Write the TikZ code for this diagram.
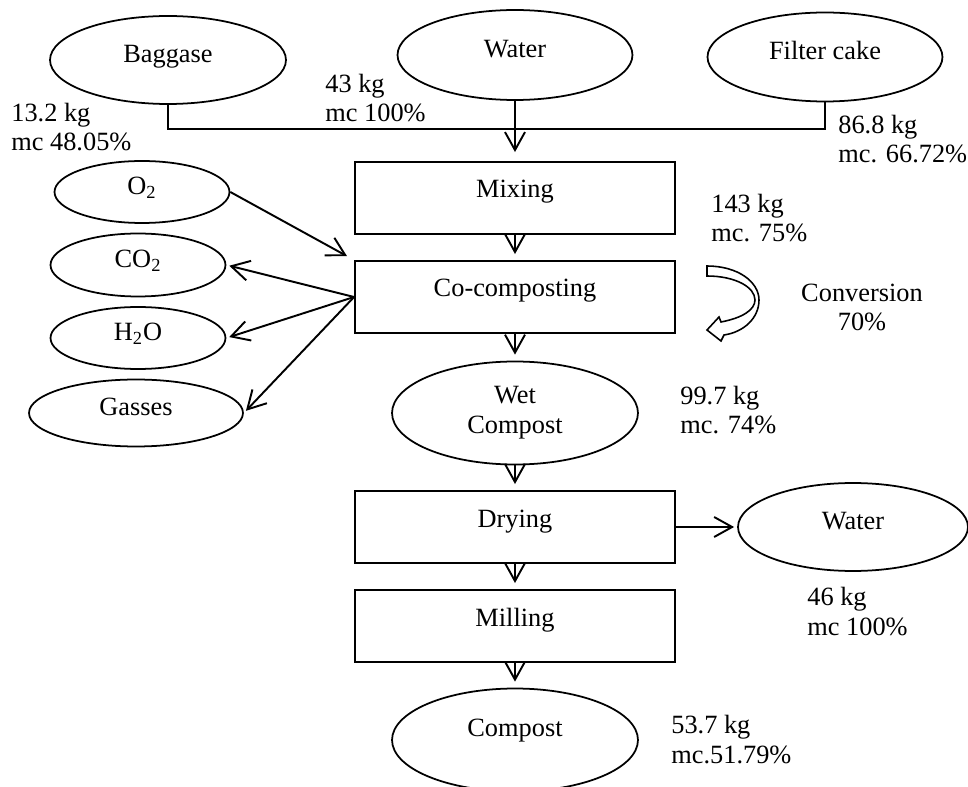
\documentclass[tikz,border=0pt]{standalone}
\usepackage{fontspec}
\setmainfont{Liberation Serif}
\usetikzlibrary{shapes.geometric,arrows.meta}

\begin{document}
\begin{tikzpicture}[x=0.02cm,y=-0.02cm,
    font=\fontsize{15}{17}\selectfont,
    oval/.style={draw,ellipse,line width=1pt,inner sep=0pt},
    oval1/.style={oval,text height=10.5pt,text depth=7.5pt},
    procbox/.style={draw,rectangle,line width=1.1pt,minimum width=6.4cm,minimum height=1.44cm,inner sep=0pt,text height=10pt,text depth=10pt},
    flow/.style={-{Straight Barb[length=3.6mm,width=4mm]},line width=1.1pt,shorten >=0.12cm},
    amount/.style={anchor=base west,align=left,inner sep=0pt}]

        \useasboundingbox (0,0) rectangle (968,787);

        \node[oval1,minimum width=4.72cm,minimum height=1.76cm] (bag) at (168,60) {Baggase};
        \node[oval1,minimum width=4.7cm,minimum height=1.8cm] (wtr) at (515,55) {Water};
        \node[oval1,minimum width=4.7cm,minimum height=1.78cm] (fil) at (825,57) {Filter cake};

        \node[procbox] (mix) at (515,198) {Mixing};
        \node[procbox] (co) at (515,297) {Co-composting};
        \node[oval,align=center,minimum width=4.92cm,minimum height=2.06cm] (wet) at (515,413) {Wet\\Compost};
        \node[procbox] (dry) at (515,527) {Drying};
        \node[procbox] (mil) at (515,626) {Milling};
        \node[oval1,text depth=15pt,minimum width=4.92cm,minimum height=2.06cm] (cmp) at (515,740) {Compost};

        \node[oval1,minimum width=3.5cm,minimum height=1.24cm] (oxy) at (142,192) {O\textsubscript{2}};
        \node[oval1,minimum width=3.5cm,minimum height=1.26cm] (cdx) at (138,265) {CO\textsubscript{2}};
        \node[oval1,minimum width=3.5cm,minimum height=1.24cm] (wvp) at (138,338) {H\textsubscript{2}O};
        \node[oval1,minimum width=4.28cm,minimum height=1.34cm] (gas) at (136,413) {Gasses};

        \node[oval1,minimum width=4.6cm,minimum height=1.76cm] (wout) at (853,527) {Water};

        \node[amount] (lbag) at (11,151) {13.2 kg\\mc 48.05\%};
        \node[amount] (lwtr) at (325,122) {43 kg\\mc 100\%};
        \node[amount] (lfil) at (838,163) {86.8 kg\\mc. 66.72\%};
        \node[amount] (lmix) at (711,242) {143 kg\\mc. 75\%};
        \node[anchor=base,align=center,inner sep=0pt] (conv) at (862,331) {Conversion\\70\%};
        \node[amount] (lwet) at (680,434) {99.7 kg\\mc. 74\%};
        \node[amount] (lwout) at (807,635) {46 kg\\mc 100\%};
        \node[amount] (lcmp) at (671,763) {53.7 kg\\mc.51.79\%};

        \coordinate (mrg) at (515,129);
        \draw[line width=1pt] (bag.south) |- (mrg) -| (fil.south);

        \draw[flow,shorten >=0.18cm] (wtr) -- (mix);
        \draw[flow] (mix) -- (co);
        \draw[flow] (co) -- (wet);
        \draw[flow] (wet) -- (dry);
        \draw[flow] (dry) -- (mil);
        \draw[flow] (mil) -- (cmp);
        \draw[flow,shorten >=0.06cm] (dry) -- (wout);

        \draw[flow,shorten >=0.16cm] (oxy.east) -- (co.north west);
        \draw[flow,shorten >=0.06cm] (co.west) -- (cdx.east);
        \draw[flow,shorten >=0.06cm] (co.west) -- (wvp.east);
        \draw[flow,shorten >=0.06cm] (co.west) -- (gas.east);

        \draw[line width=0.9pt,fill=white] (707,266) .. controls (738,266) and (759,282) .. (759,300)
            .. controls (759,318) and (744,332) .. (724,335) -- (721,341) -- (707,330) -- (719,317) -- (721,322)
            .. controls (742,318) and (755,310) .. (755,300) .. controls (755,287) and (735,276) .. (707,276) -- cycle;
    \end{tikzpicture}
\end{document}
